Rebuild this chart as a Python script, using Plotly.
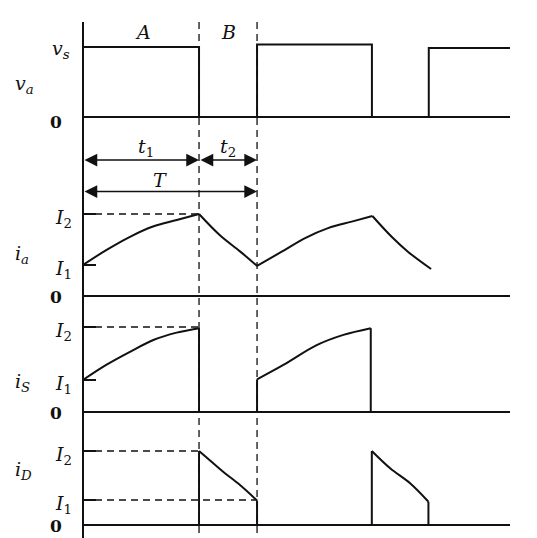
import plotly.graph_objects as go

# ---------------- data (time in units of t1) ----------------
t1 = 1.0
T = 1.5
t_end = 3.68

va_t = [0, 1.0, 1.0, 1.5, 1.5, 2.49, 2.49, 2.98, 2.98, 3.68]
va_v = [1.0, 1.0, 0, 0, 1.035, 1.035, 0, 0, 0.985, 0.985]
vs_level = 1.0

# curves are broken into smooth segments with None
ia_t = [0, 0.20, 0.405, 0.603, 0.808, 1.0, None,
        1.0, 1.18, 1.353, 1.5, None,
        1.5, 1.713, 1.914, 2.112, 2.316, 2.494, None,
        2.494, 2.66, 2.80, 3.0]
ia_v = [1.0, 1.48, 1.91, 2.24, 2.45, 2.645, None,
        2.645, 1.96, 1.44, 0.97, None,
        0.97, 1.43, 1.87, 2.19, 2.40, 2.58, None,
        2.58, 1.91, 1.43, 0.87]
ia_levels = [1.0, 2.645]

is_t = [0, 0.20, 0.405, 0.606, 0.807, 1.0, None,
        1.0, 1.0, None,
        1.5, 1.5, None,
        1.5, 1.727, 2.014, 2.244, 2.48, None,
        2.48, 2.48]
is_v = [1.0, 1.47, 1.88, 2.25, 2.48, 2.62, None,
        2.62, 0, None,
        0, 1.02, None,
        1.02, 1.47, 2.09, 2.41, 2.62, None,
        2.62, 0]
is_levels = [1.0, 2.656]

id_t = [1.0, 1.0, None, 1.0, 1.095, 1.21, 1.353, 1.5, None, 1.5, 1.5, None,
        2.489, 2.489, None, 2.489, 2.647, 2.819, 2.977, None, 2.977, 2.977]
id_v = [0, 2.96, None, 2.96, 2.58, 2.12, 1.6, 0.98, None, 0.98, 0, None,
        0, 2.96, None, 2.96, 2.27, 1.67, 0.93, None, 0.93, 0]
id_levels = [1.0, 2.96]

level_text = ["<i>I</i><sub>1</sub>", "<i>I</i><sub>2</sub>"]

# ---------------- layout geometry ----------------
W, H = 537, 538
X_LEFT, X_RIGHT = 83, 510
FONT = "DejaVu Serif"
BLACK = "#111"
FS = 19

# zero pixel, px per unit, domain top px, domain bottom px
panels = {
    "y":  (117, 70, 30, 125),
    "y2": (296, 31, 205, 302),
    "y3": (412, 32, 320, 418),
    "y4": (525, 25, 440, 531),
}


def axis_for(key, tickvals):
    pz, s, dt, db = panels[key]
    lo = -(db - pz) / s
    hi = (pz - dt) / s
    return dict(domain=[1 - db / H, 1 - dt / H], range=[lo, hi], anchor="x",
                showgrid=False, showline=False, zeroline=True, zerolinecolor=BLACK,
                zerolinewidth=2, tickvals=tickvals, ticks="inside" if tickvals else "",
                ticklen=13, tickwidth=2, tickcolor=BLACK, showticklabels=False,
                fixedrange=True)


fig = go.Figure()
line = dict(color=BLACK, width=2, shape="spline", smoothing=1.0)
sline = dict(color=BLACK, width=2)
dash = dict(color=BLACK, width=1.3, dash="7px,5px")

fig.add_trace(go.Scatter(x=va_t, y=va_v, mode="lines", line=sline, yaxis="y"))
fig.add_trace(go.Scatter(x=ia_t, y=ia_v, mode="lines", line=line, yaxis="y2"))
fig.add_trace(go.Scatter(x=is_t, y=is_v, mode="lines", line=line, yaxis="y3"))
fig.add_trace(go.Scatter(x=id_t, y=id_v, mode="lines", line=line, yaxis="y4"))

# dashed reference levels
fig.add_trace(go.Scatter(x=[0, t1], y=[ia_levels[1]] * 2, mode="lines", line=dash, yaxis="y2"))
fig.add_trace(go.Scatter(x=[0, t1], y=[is_levels[1]] * 2, mode="lines", line=dash, yaxis="y3"))
fig.add_trace(go.Scatter(x=[0, t1], y=[id_levels[1]] * 2, mode="lines", line=dash, yaxis="y4"))
fig.add_trace(go.Scatter(x=[0, T], y=[id_levels[0]] * 2, mode="lines", line=dash, yaxis="y4"))

shapes = [
    dict(type="line", xref="x domain", yref="paper", x0=0, x1=0, y0=1 - 22 / H, y1=0,
         line=dict(color=BLACK, width=2)),
]
for tv in (t1, T):
    shapes.append(dict(type="line", xref="x", yref="paper", x0=tv, x1=tv, y0=1 - 22 / H, y1=0,
                       line=dict(color=BLACK, width=1.3, dash="7px,5px")))

annotations = []


def txt(text, px, py, size=FS, xanchor="center"):
    annotations.append(dict(text=text, xref="paper", yref="paper", x=px / W, y=1 - py / H,
                            xanchor=xanchor, yanchor="middle", showarrow=False,
                            font=dict(family=FONT, size=size, color=BLACK)))


# labels
txt("<i>A</i>", 143, 32)
txt("<i>B</i>", 228, 32)
txt("<i>v<sub>s</sub></i>", 72, 50, xanchor="right")
txt("<i>v<sub>a</sub></i>", 13, 84, xanchor="left")
txt("<b>0</b>", 64, 122, size=17, xanchor="right")
txt("<i>t</i><sub>1</sub>", 146, 147)
txt("<i>t</i><sub>2</sub>", 228, 147)
txt("<i>T</i>", 160, 180)

for key, label, lv, ly in (("y2", "<i>i<sub>a</sub></i>", ia_levels, 254),
                           ("y3", "<i>i<sub>S</sub></i>", is_levels, 382),
                           ("y4", "<i>i<sub>D</sub></i>", id_levels, 470)):
    pz, s, dt, db = panels[key]
    txt(label, 13, ly, xanchor="left")
    for v, t in zip(lv, level_text):
        txt(t, 74, pz - v * s + 4, xanchor="right")
    txt("<b>0</b>", 64, pz + 1, size=17, xanchor="right")

# dimension arrows
for x0, x1, py in ((0, t1, 160), (t1, T, 160), (0, T, 191.5)):
    annotations.append(dict(text="", x=x1, y=1 - py / H, xref="x", yref="paper",
                            ax=x0, ay=0, axref="x", ayref="pixel", showarrow=True,
                            arrowhead=2, startarrowhead=2, arrowside="end+start",
                            arrowsize=1.7, startarrowsize=1.7, arrowwidth=1.5,
                            arrowcolor=BLACK, standoff=0, startstandoff=0))

fig.update_layout(
    width=W, height=H, margin=dict(l=0, r=0, t=0, b=0),
    paper_bgcolor="white", plot_bgcolor="rgba(0,0,0,0)", showlegend=False,
    xaxis=dict(domain=[X_LEFT / W, X_RIGHT / W], range=[0, t_end], visible=False,
               fixedrange=True),
    yaxis=axis_for("y", []),
    yaxis2=axis_for("y2", ia_levels),
    yaxis3=axis_for("y3", is_levels),
    yaxis4=axis_for("y4", id_levels),
    shapes=shapes, annotations=annotations,
)

fig.write_html("out.html", config={"displayModeBar": False},
               post_script="document.body.style.margin='0px';document.body.style.overflow='hidden';")
